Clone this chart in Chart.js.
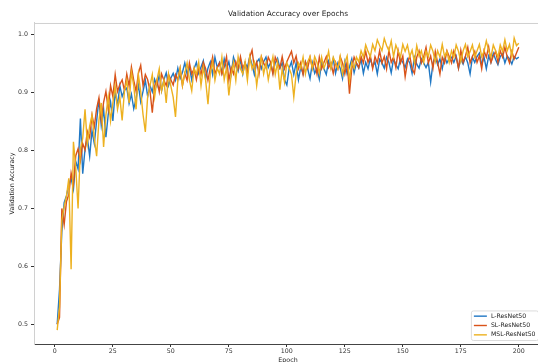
<!DOCTYPE html>
<html>
<head>
<meta charset="utf-8">
<script src="https://cdn.jsdelivr.net/npm/chart.js@4"></script>
<style>
  html, body { margin: 0; padding: 0; background: #fff; overflow: hidden; }
  #wrap { width: 548px; height: 370px; }
</style>
</head>
<body>
<div id="wrap"><canvas id="accChart" width="548" height="370"></canvas></div>
<script>
// epochs 1..200
const epochs = Array.from({ length: 200 }, (_, i) => i + 1);

const seriesNames = ['L-ResNet50', 'SL-ResNet50', 'MSL-ResNet50'];

const lResNet = [
  0.500, 0.560, 0.660, 0.710, 0.722, 0.741, 0.752, 0.733, 0.781, 0.768,
  0.855, 0.760, 0.802, 0.822, 0.790, 0.834, 0.812, 0.851, 0.889, 0.843,
  0.871, 0.823, 0.862, 0.884, 0.851, 0.902, 0.878, 0.912, 0.893, 0.904,
  0.908, 0.881, 0.897, 0.872, 0.889, 0.913, 0.884, 0.902, 0.921, 0.893,
  0.912, 0.901, 0.923, 0.911, 0.931, 0.903, 0.922, 0.934, 0.912, 0.925,
  0.933, 0.921, 0.942, 0.924, 0.935, 0.951, 0.932, 0.944, 0.922, 0.941,
  0.952, 0.933, 0.944, 0.955, 0.924, 0.942, 0.953, 0.931, 0.961, 0.943,
  0.952, 0.934, 0.958, 0.941, 0.953, 0.932, 0.961, 0.948, 0.937, 0.957,
  0.932, 0.951, 0.943, 0.962, 0.948, 0.931, 0.952, 0.958, 0.941, 0.953,
  0.961, 0.943, 0.952, 0.934, 0.951, 0.959, 0.942, 0.951, 0.922, 0.913,
  0.942, 0.953, 0.931, 0.951, 0.922, 0.944, 0.932, 0.953, 0.941, 0.924,
  0.951, 0.933, 0.942, 0.923, 0.952, 0.941, 0.931, 0.954, 0.942, 0.958,
  0.933, 0.951, 0.942, 0.924, 0.953, 0.932, 0.944, 0.958, 0.934, 0.951,
  0.942, 0.958, 0.933, 0.952, 0.941, 0.959, 0.944, 0.953, 0.932, 0.957,
  0.951, 0.942, 0.961, 0.952, 0.934, 0.958, 0.948, 0.941, 0.959, 0.952,
  0.943, 0.958, 0.951, 0.933, 0.961, 0.949, 0.942, 0.958, 0.951, 0.943,
  0.952, 0.918, 0.951, 0.962, 0.948, 0.958, 0.941, 0.962, 0.951, 0.959,
  0.961, 0.952, 0.963, 0.942, 0.958, 0.949, 0.962, 0.951, 0.932, 0.961,
  0.952, 0.962, 0.968, 0.948, 0.961, 0.941, 0.963, 0.952, 0.968, 0.957,
  0.948, 0.962, 0.967, 0.951, 0.963, 0.958, 0.949, 0.962, 0.958, 0.961
];

const slResNet = [
  0.500, 0.512, 0.700, 0.672, 0.712, 0.724, 0.761, 0.742, 0.791, 0.803,
  0.782, 0.812, 0.801, 0.833, 0.822, 0.861, 0.841, 0.872, 0.891, 0.852,
  0.883, 0.902, 0.871, 0.912, 0.893, 0.931, 0.902, 0.914, 0.922, 0.903,
  0.932, 0.911, 0.944, 0.921, 0.902, 0.933, 0.947, 0.912, 0.931, 0.922,
  0.903, 0.865, 0.911, 0.922, 0.901, 0.932, 0.921, 0.912, 0.931, 0.922,
  0.913, 0.931, 0.922, 0.942, 0.912, 0.933, 0.921, 0.951, 0.932, 0.941,
  0.922, 0.943, 0.931, 0.952, 0.941, 0.921, 0.942, 0.961, 0.932, 0.943,
  0.951, 0.932, 0.944, 0.962, 0.921, 0.943, 0.932, 0.953, 0.941, 0.962,
  0.942, 0.951, 0.933, 0.961, 0.973, 0.942, 0.953, 0.931, 0.962, 0.951,
  0.943, 0.961, 0.952, 0.932, 0.961, 0.951, 0.942, 0.962, 0.941, 0.953,
  0.962, 0.971, 0.951, 0.963, 0.941, 0.952, 0.931, 0.953, 0.942, 0.961,
  0.942, 0.953, 0.932, 0.961, 0.941, 0.952, 0.962, 0.943, 0.951, 0.933,
  0.952, 0.941, 0.962, 0.951, 0.932, 0.953, 0.898, 0.942, 0.961, 0.951,
  0.943, 0.962, 0.951, 0.971, 0.952, 0.963, 0.941, 0.962, 0.951, 0.972,
  0.951, 0.962, 0.941, 0.973, 0.952, 0.961, 0.943, 0.972, 0.951, 0.963,
  0.927, 0.952, 0.963, 0.941, 0.933, 0.961, 0.972, 0.951, 0.962, 0.978,
  0.951, 0.963, 0.942, 0.971, 0.952, 0.932, 0.961, 0.951, 0.972, 0.962,
  0.951, 0.972, 0.961, 0.942, 0.973, 0.952, 0.963, 0.978, 0.951, 0.962,
  0.971, 0.952, 0.963, 0.941, 0.972, 0.961, 0.979, 0.952, 0.963, 0.971,
  0.952, 0.972, 0.961, 0.978, 0.962, 0.951, 0.971, 0.958, 0.968, 0.978
];

const mslResNet = [
  0.490, 0.530, 0.680, 0.702, 0.721, 0.752, 0.595, 0.815, 0.771, 0.700,
  0.802, 0.821, 0.871, 0.812, 0.842, 0.861, 0.821, 0.790, 0.852, 0.882,
  0.806, 0.861, 0.893, 0.851, 0.882, 0.911, 0.871, 0.892, 0.852, 0.903,
  0.921, 0.882, 0.935, 0.912, 0.871, 0.931, 0.902, 0.862, 0.832, 0.893,
  0.912, 0.931, 0.892, 0.922, 0.941, 0.903, 0.921, 0.882, 0.932, 0.911,
  0.892, 0.858, 0.921, 0.942, 0.912, 0.933, 0.951, 0.922, 0.903, 0.942,
  0.931, 0.952, 0.912, 0.943, 0.921, 0.880, 0.932, 0.953, 0.921, 0.942,
  0.932, 0.961, 0.922, 0.943, 0.895, 0.931, 0.952, 0.921, 0.962, 0.941,
  0.932, 0.953, 0.921, 0.962, 0.941, 0.952, 0.912, 0.943, 0.961, 0.932,
  0.951, 0.922, 0.943, 0.962, 0.931, 0.952, 0.905, 0.941, 0.918, 0.951,
  0.942, 0.931, 0.892, 0.932, 0.951, 0.942, 0.961, 0.932, 0.953, 0.962,
  0.941, 0.962, 0.952, 0.933, 0.961, 0.942, 0.953, 0.971, 0.942, 0.961,
  0.951, 0.941, 0.962, 0.932, 0.952, 0.963, 0.921, 0.952, 0.942, 0.961,
  0.953, 0.972, 0.961, 0.982, 0.971, 0.962, 0.983, 0.972, 0.991, 0.981,
  0.972, 0.993, 0.981, 0.972, 0.989, 0.962, 0.982, 0.971, 0.961, 0.983,
  0.971, 0.982, 0.962, 0.973, 0.952, 0.981, 0.963, 0.972, 0.952, 0.971,
  0.962, 0.982, 0.971, 0.953, 0.972, 0.961, 0.983, 0.962, 0.971, 0.952,
  0.972, 0.961, 0.982, 0.971, 0.953, 0.972, 0.983, 0.962, 0.971, 0.982,
  0.961, 0.972, 0.983, 0.962, 0.971, 0.989, 0.972, 0.961, 0.982, 0.972,
  0.961, 0.982, 0.971, 0.991, 0.972, 0.983, 0.962, 0.994, 0.981, 0.985
];

const xTickValues = [0, 25, 50, 75, 100, 125, 150, 175, 200];
const yTickValues = [0.5, 0.6, 0.7, 0.8, 0.9, 1.0];
const lineColors = ['#1f77c4', '#d95319', '#edb120'];

const fontFamily = '"DejaVu Sans", sans-serif';

function toPoints(values) {
  return values.map((v, i) => ({ x: epochs[i], y: v }));
}

// matplotlib-like frame top line + legend box in the lower right corner
const frameAndLegend = {
  id: 'frameAndLegend',
  afterDraw(chart) {
    const ctx = chart.ctx;
    const area = chart.chartArea;
    const sets = chart.data.datasets;
    ctx.save();
    ctx.strokeStyle = '#d0d0d0';
    ctx.lineWidth = 1;
    ctx.beginPath();
    ctx.moveTo(area.left, area.top + 0.5);
    ctx.lineTo(area.right, area.top + 0.5);
    ctx.stroke();

    ctx.font = '6.2px ' + fontFamily;
    const textW = Math.max(...sets.map(d => ctx.measureText(d.label).width));
    const rowH = 9.35;
    const w = 19.5 + textW + 3;
    const h = sets.length * rowH + 1.5;
    const right = area.right - 3.5;
    const bottom = area.bottom - 3.5;
    const left = right - w;
    const top = bottom - h;

    ctx.fillStyle = 'rgba(255,255,255,0.85)';
    ctx.strokeStyle = '#dcdcdc';
    ctx.beginPath();
    ctx.roundRect(left, top, w, h, 2);
    ctx.fill();
    ctx.stroke();

    ctx.textBaseline = 'middle';
    sets.forEach((d, i) => {
      const y = top + 5.2 + rowH * i;
      ctx.strokeStyle = d.borderColor;
      ctx.lineWidth = 1.4;
      ctx.beginPath();
      ctx.moveTo(left + 2.5, y);
      ctx.lineTo(left + 15.5, y);
      ctx.stroke();
      ctx.fillStyle = '#222';
      ctx.fillText(d.label, left + 19.5, y);
    });
    ctx.restore();
  }
};

const ctx = document.getElementById('accChart').getContext('2d');
const chart = new Chart(ctx, {
  type: 'line',
  data: {
    datasets: [
      { label: seriesNames[0], data: toPoints(lResNet), borderColor: lineColors[0], order: 2 },
      { label: seriesNames[1], data: toPoints(slResNet), borderColor: lineColors[1], order: 1 },
      { label: seriesNames[2], data: toPoints(mslResNet), borderColor: lineColors[2], order: 0 }
    ]
  },
  options: {
    responsive: false,
    animation: false,
    devicePixelRatio: 1,
    layout: { padding: { left: 0, right: 6, top: 0, bottom: 0 } },
    elements: {
      line: { borderWidth: 1.4, tension: 0, fill: false },
      point: { radius: 0 }
    },
    plugins: {
      legend: { display: false },
      tooltip: { enabled: false },
      title: {
        display: true,
        text: 'Validation Accuracy over Epochs',
        fullSize: false,
        color: '#222',
        font: { family: fontFamily, size: 7.4, weight: 'normal' },
        padding: { top: 10, bottom: 4.1 }
      }
    },
    scales: {
      x: {
        type: 'linear',
        min: -9,
        max: 210,
        afterFit: s => { s.height = 26; },
        afterBuildTicks: s => { s.ticks = xTickValues.map(v => ({ value: v })); },
        ticks: {
          color: '#333',
          font: { family: fontFamily, size: 6.3 },
          padding: 1,
          maxRotation: 0,
          callback: v => String(v)
        },
        grid: { drawOnChartArea: false, drawTicks: true, tickLength: 3, color: '#333' },
        border: { color: '#444', width: 1 },
        title: {
          display: true,
          text: 'Epoch',
          color: '#222',
          font: { family: fontFamily, size: 6.3 },
          padding: { top: 0, bottom: 6 }
        }
      },
      y: {
        type: 'linear',
        min: 0.466,
        max: 1.02,
        afterFit: s => { s.width = 34; },
        afterBuildTicks: s => { s.ticks = yTickValues.map(v => ({ value: v })); },
        ticks: {
          color: '#333',
          font: { family: fontFamily, size: 6.3 },
          padding: 3,
          callback: v => Number(v).toFixed(1)
        },
        grid: { drawOnChartArea: false, drawTicks: true, tickLength: 3, color: '#333' },
        border: { color: '#d0d0d0', width: 1 },
        title: {
          display: true,
          text: 'Validation Accuracy',
          color: '#222',
          font: { family: fontFamily, size: 6.3 },
          padding: { top: 9, bottom: 0 }
        }
      }
    }
  },
  plugins: [frameAndLegend]
});
</script>
</body>
</html>
